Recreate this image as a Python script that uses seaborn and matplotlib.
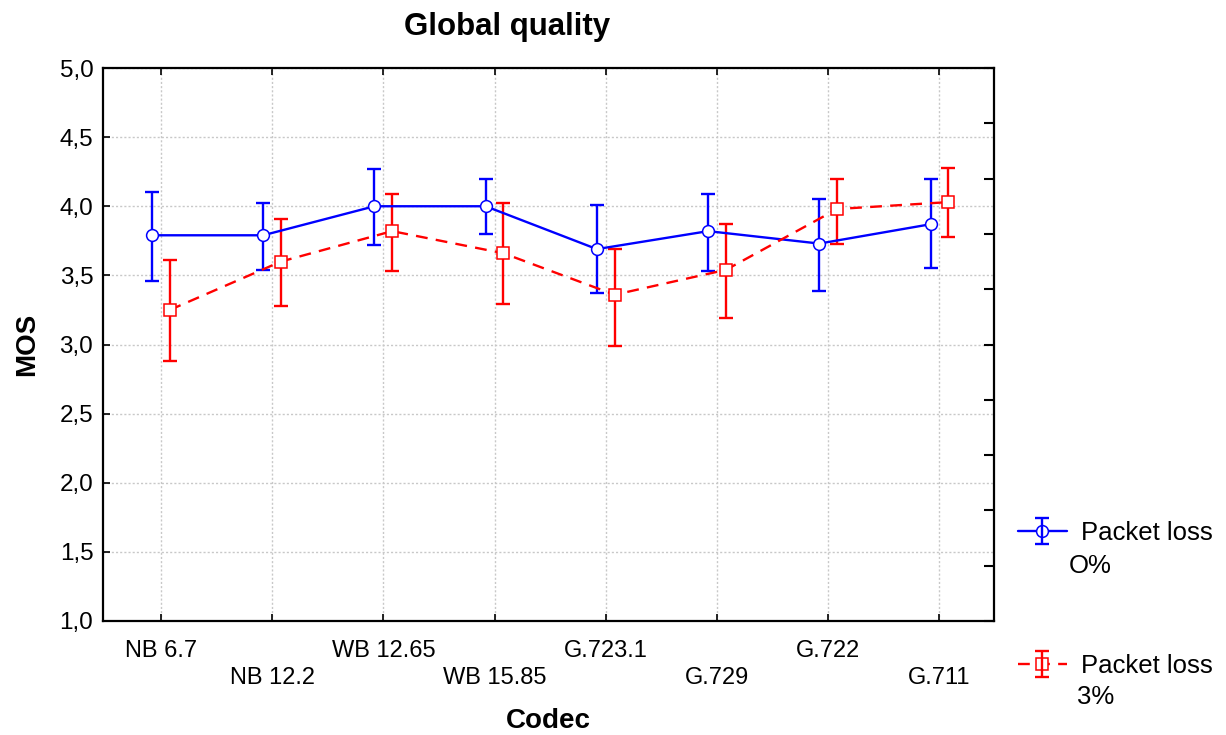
import numpy as np
import pandas as pd
import matplotlib
matplotlib.use("Agg")
import matplotlib.pyplot as plt
import seaborn as sns
from matplotlib.legend_handler import HandlerTuple

# ---- data ----
codecs = ["NB 6.7", "NB 12.2", "WB 12.65", "WB 15.85", "G.723.1", "G.729", "G.722", "G.711"]
mean_0 = [3.79, 3.79, 4.00, 4.00, 3.69, 3.82, 3.73, 3.87]
low_0 = [3.46, 3.54, 3.72, 3.80, 3.37, 3.53, 3.39, 3.55]
high_0 = [4.10, 4.02, 4.27, 4.20, 4.01, 4.09, 4.05, 4.20]
mean_3 = [3.25, 3.60, 3.82, 3.66, 3.36, 3.54, 3.98, 4.03]
low_3 = [2.88, 3.28, 3.53, 3.29, 2.99, 3.19, 3.73, 3.78]
high_3 = [3.61, 3.91, 4.09, 4.02, 3.69, 3.87, 4.20, 4.28]
series_labels = ["Packet loss", "Packet loss"]
series_sub = ["O%", "3%"]
y_ticks = [1.0, 1.5, 2.0, 2.5, 3.0, 3.5, 4.0, 4.5, 5.0]

sns.set_theme(style="white")
plt.rcParams["font.family"] = ["Liberation Sans", "DejaVu Sans"]

fig = plt.figure(figsize=(12.26, 7.35), dpi=100)
ax = fig.add_axes([103 / 1226, 1 - 621 / 735, (994 - 103) / 1226, (621 - 68) / 735])

pos = np.arange(len(codecs))
off = 0.08
blue = "#0000FF"
red = "#FF0000"

df0 = pd.DataFrame({"x": pos - off, "y": mean_0})
df3 = pd.DataFrame({"x": pos + off, "y": mean_3})

eb0 = ax.errorbar(df0["x"], df0["y"],
                  yerr=[np.array(mean_0) - np.array(low_0), np.array(high_0) - np.array(mean_0)],
                  fmt="none", ecolor=blue, elinewidth=1.7, capsize=4.8, capthick=1.7, zorder=3)
eb3 = ax.errorbar(df3["x"], df3["y"],
                  yerr=[np.array(mean_3) - np.array(low_3), np.array(high_3) - np.array(mean_3)],
                  fmt="none", ecolor=red, elinewidth=1.7, capsize=4.8, capthick=1.7, zorder=3)

sns.lineplot(data=df0, x="x", y="y", ax=ax, color=blue, linewidth=1.7, marker="o",
             markersize=8.5, markerfacecolor="white", markeredgecolor=blue, markeredgewidth=1.1,
             zorder=4, sort=False)
sns.lineplot(data=df3, x="x", y="y", ax=ax, color=red, linewidth=1.7, marker="s",
             markersize=8, markerfacecolor="white", markeredgecolor=red, markeredgewidth=1.1,
             zorder=4, sort=False, dashes=False)
l0 = ax.lines[-2]
l3 = ax.lines[-1]
l3.set_linestyle((0, (5, 3.5)))

ax.set_xlim(-0.52, 7.49)
ax.set_ylim(1.0, 5.0)
ax.set_xticks(pos)
ax.set_xticklabels([c if i % 2 == 0 else "\n" + c for i, c in enumerate(codecs)], fontsize=17,
                   linespacing=1.25)
ax.set_yticks(y_ticks)
ax.set_yticklabels([f"{v:.1f}".replace(".", ",") for v in y_ticks], fontsize=17.5)

ax.grid(True, color="#c8c8c8", linestyle=(0, (1.5, 1.5)), linewidth=1.0)
ax.set_axisbelow(True)
for s in ax.spines.values():
    s.set_visible(True)
    s.set_color("black")
    s.set_linewidth(1.6)

ax.tick_params(axis="x", which="major", direction="in", length=5, width=1.2, color="black",
               bottom=True, top=True, pad=14, labelcolor="black")
ax.tick_params(axis="y", which="major", direction="in", length=5, width=1.2, color="black",
               left=True, right=False, pad=7, labelcolor="black")

ax2 = ax.twinx()
ax2.set_ylim(1.0, 5.0)
ax2.set_yticks(np.arange(1.0, 5.01, 0.4))
ax2.tick_params(axis="y", direction="in", length=7, width=1.5, color="black", labelright=False)
ax2.grid(False)
for s in ax2.spines.values():
    s.set_visible(False)

ax.set_xlabel("Codec", fontsize=20, fontweight="bold", labelpad=14, color="black")
ax.set_ylabel("MOS", fontsize=20, fontweight="bold", labelpad=14, color="black")
fig.text(507 / 1226, 1 - 27 / 735, "Global quality", fontsize=22.5, fontweight="bold",
         ha="center", va="center", color="black")

leg = fig.legend([(l0, eb0), (l3, eb3)], series_labels,
                 handler_map={tuple: HandlerTuple(ndivide=1)},
                 loc="upper left", bbox_to_anchor=(1018 / 1226, 1 - 521 / 735),
                 frameon=False, fontsize=18.5, handlelength=1.9, handletextpad=0.55,
                 labelspacing=4.25, borderpad=0, borderaxespad=0)
for t in leg.get_texts():
    t.set_color("black")
fig.text(1069 / 1226, 1 - 566 / 735, series_sub[0], fontsize=18.5, ha="left", va="center", color="black")
fig.text(1077 / 1226, 1 - 697 / 735, series_sub[1], fontsize=18.5, ha="left", va="center", color="black")

fig.savefig("out.png", dpi=100)
